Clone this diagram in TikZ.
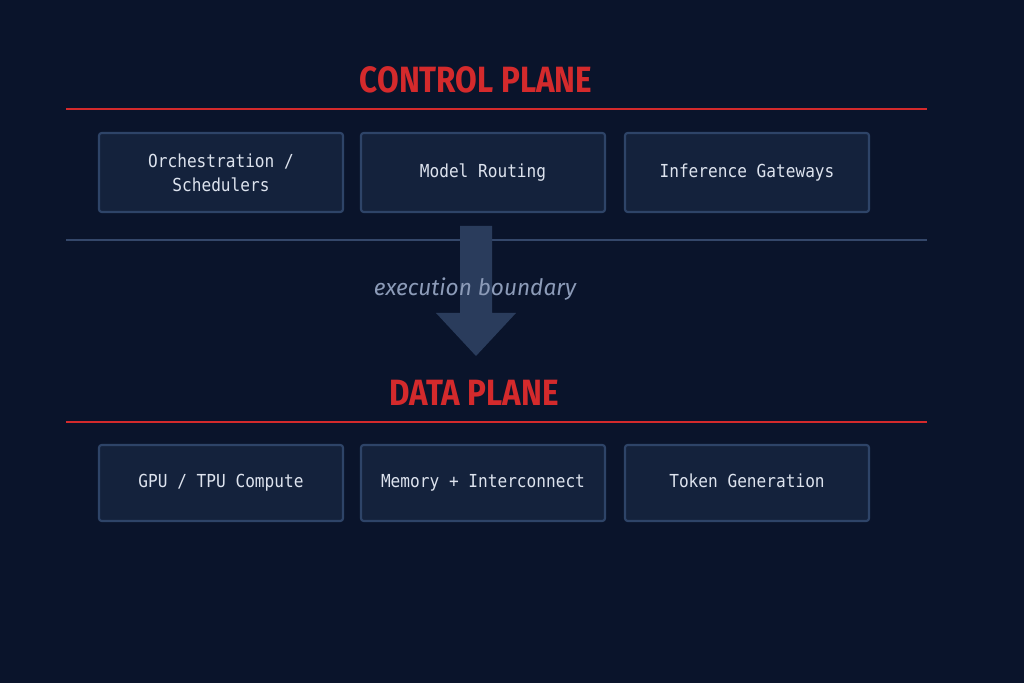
\documentclass[tikz,border=0pt]{standalone}
\usepackage{fontspec}
\usepackage{tikz}
\usetikzlibrary{positioning}
\setmainfont{Fira Sans}
\newfontfamily\headfont[FakeStretch=0.86]{Fira Sans}
\newfontfamily\boxfont[FakeStretch=0.9]{DejaVu Sans Mono}
\definecolor{bgnavy}{HTML}{0A142B}
\definecolor{boxfill}{HTML}{14223C}
\definecolor{boxline}{HTML}{2E4468}
\definecolor{planered}{HTML}{D42A2C}
\definecolor{splitline}{HTML}{34476A}
\definecolor{arrowblue}{HTML}{2A3C5C}
\definecolor{boxtext}{HTML}{DDE3EE}
\definecolor{notetext}{HTML}{8C9BB8}
\tikzset{
	planebox/.style={draw=boxline, line width=1.2pt, fill=boxfill, rounded corners=1.5pt,
		minimum width=4.88cm, inner sep=0pt, text=boxtext, align=center,
		font=\boxfont\fontsize{10.2}{13.6}\selectfont},
	oneline/.style={text height=0.75em, text depth=0.22em},
	planetitle/.style={text=planered, font=\headfont\bfseries\fontsize{20.8}{24}\selectfont},
}

\begin{document}
\begin{tikzpicture}
	\fill[bgnavy] (0,0) rectangle (20.48,13.66);
	\useasboundingbox (0,0) rectangle (20.48,13.66);

	\node[planetitle] (ctrl) at (9.52,12.06) {CONTROL PLANE};	% control
	\draw[planered, line width=1.6pt] (1.32,11.48) -- (18.54,11.48);

	\node[planebox, minimum height=1.58cm] (orch) at (4.42,10.21) {Orchestration /\\Schedulers};
	\node[planebox, oneline, minimum height=1.58cm] (route) at (9.66,10.21) {Model Routing};
	\node[planebox, oneline, minimum height=1.58cm] (gate) at (14.94,10.21) {Inference Gateways};

	\draw[splitline, line width=1.6pt] (1.32,8.86) -- (18.54,8.86);	% boundary

	\fill[arrowblue] (9.2,9.14) -- (9.84,9.14) -- (9.84,7.40) -- (10.32,7.40)
		-- (9.52,6.54) -- (8.72,7.40) -- (9.2,7.40) -- cycle;
	\node[text=notetext, font=\itshape\fontsize{12.9}{15}\selectfont] (exec) at (9.5,7.88) {execution boundary};

	\node[planetitle] (data) at (9.48,5.80) {DATA PLANE};	% data
	\draw[planered, line width=1.6pt] (1.32,5.22) -- (18.54,5.22);

	\node[planebox, oneline, minimum height=1.52cm] (gpu) at (4.42,4.0) {GPU / TPU Compute};
	\node[planebox, oneline, minimum height=1.52cm] (mem) at (9.66,4.0) {Memory + Interconnect};
	\node[planebox, oneline, minimum height=1.52cm] (tok) at (14.94,4.0) {Token Generation};
\end{tikzpicture}
\end{document}
